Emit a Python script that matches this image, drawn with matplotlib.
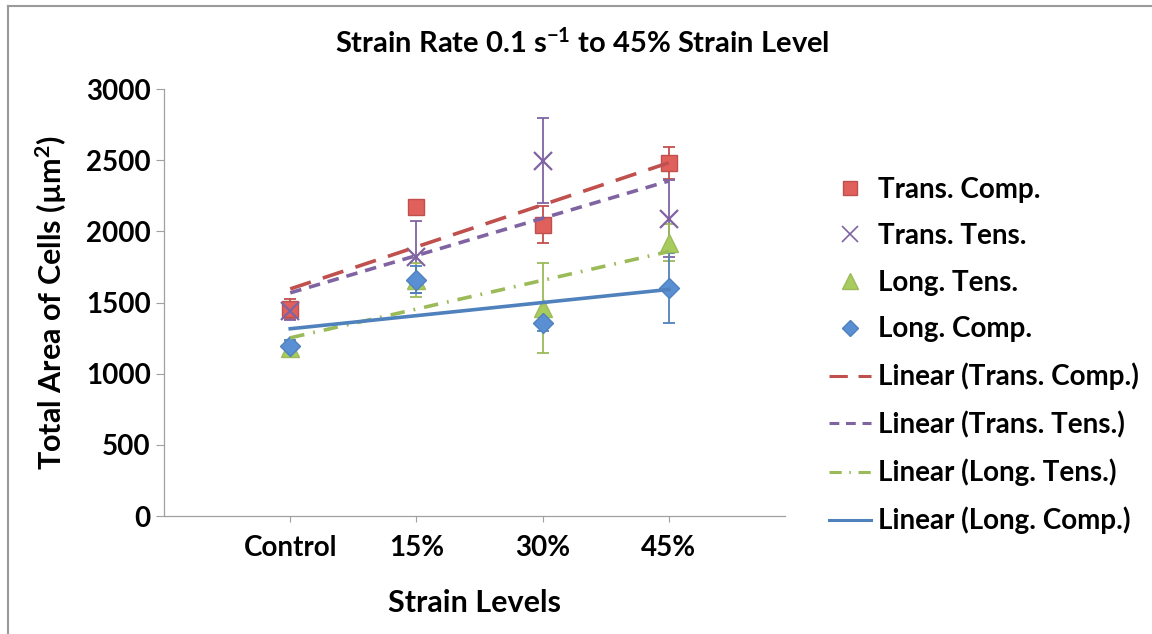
import numpy as np
import matplotlib
matplotlib.use("Agg")
import matplotlib.pyplot as plt
from matplotlib.lines import Line2D

plt.rcParams['font.family'] = ['Lato', 'DejaVu Sans']
plt.rcParams['font.weight'] = 'bold'
plt.rcParams['mathtext.fontset'] = 'custom'
plt.rcParams['mathtext.rm'] = 'Lato:bold'
plt.rcParams['mathtext.default'] = 'rm'

# data
levels = ["Control", "15%", "30%", "45%"]
trans_comp = [1455, 2172, 2046, 2482]
trans_comp_err = [70, 40, 130, 112]
trans_tens = [1440, 1820, 2496, 2088]
trans_tens_err = [60, 255, 300, 270]
long_tens = [1180, 1660, 1460, 1920]
long_tens_err = [40, 120, 315, 130]
long_comp = [1195, 1660, 1357, 1603]
long_comp_err = [40, 95, 60, 245]

x = np.arange(1, len(levels) + 1)

series = [
    ("Trans. Comp.", trans_comp, trans_comp_err, "#C0504D", "#E0605C", "s", 12, (0, (6, 3.5))),
    ("Trans. Tens.", trans_tens, trans_tens_err, "#8064A2", "none", "x", 13, (0, (3.2, 2.2))),
    ("Long. Tens.", long_tens, long_tens_err, "#9BBB59", "#A8CB5E", "^", 13, (0, (4, 2.5, 0.5, 2.5))),
    ("Long. Comp.", long_comp, long_comp_err, "#4F81BD", "#5B8FD4", "D", 10, "-"),
]

fig = plt.figure(figsize=(11.52, 6.34), dpi=100)
ax = fig.add_axes([0.1424, 0.1861, 0.539, 0.6735])

marker_handles = []
trend_handles = []
for name, vals, errs, col, face, mk, ms, ls in series:
    ax.errorbar(x, vals, yerr=errs, fmt="none", ecolor=col, elinewidth=1.3,
                capsize=4, capthick=1.3, zorder=2)
    if mk == "x":
        ax.plot(x, vals, linestyle="none", marker=mk, markersize=ms,
                markeredgecolor=col, markeredgewidth=1.6, zorder=3)
    else:
        ax.plot(x, vals, linestyle="none", marker=mk, markersize=ms,
                markerfacecolor=face, markeredgecolor=col, markeredgewidth=1.0, zorder=3)
    # linear trendline like Excel
    k, b = np.polyfit(x, vals, 1)
    ax.plot(x, k * x + b, color=col, linewidth=2.6, linestyle=ls, zorder=4)
    if mk == "x":
        marker_handles.append(Line2D([], [], linestyle="none", marker=mk, markersize=ms * 0.85,
                                     markeredgecolor=col, markeredgewidth=1.2, label=name))
    else:
        marker_handles.append(Line2D([], [], linestyle="none", marker=mk, markersize=ms * 0.85,
                                     markerfacecolor=face, markeredgecolor=col, label=name))
    trend_handles.append(Line2D([], [], color=col, linewidth=2.2, linestyle=ls,
                                label="Linear (" + name + ")"))

ax.set_xlim(0, 4.92)
ax.set_ylim(0, 3000)
ax.set_yticks(range(0, 3001, 500))
ax.set_xticks(x)
ax.set_xticklabels(levels)
ax.tick_params(axis="both", labelsize=20, colors="#000000", length=6, width=0.8)
ax.tick_params(axis="x", length=4, pad=10)
ax.tick_params(axis="both", color="#A0A0A0")
for s in ["top", "right"]:
    ax.spines[s].set_visible(False)
for s in ["left", "bottom"]:
    ax.spines[s].set_color("#A0A0A0")
    ax.spines[s].set_linewidth(0.9)

ax.set_ylabel("Total Area of Cells (µm$^2$)", fontsize=22, fontweight="bold", labelpad=12)
ax.set_xlabel("Strain Levels", fontsize=22, fontweight="bold", labelpad=20)
fig.text(0.505, 0.933, "Strain Rate 0.1 s$^{-1}$ to 45% Strain Level", fontsize=21,
         ha="center", va="center")

leg = fig.legend(handles=marker_handles + trend_handles, loc="upper left",
                 bbox_to_anchor=(0.710, 0.739), frameon=False, fontsize=20,
                 handlelength=1.5, handletextpad=0.25, labelspacing=0.74, borderaxespad=0)

# outer chart border (left and top visible)
fig.add_artist(Line2D([0.007, 0.007], [0, 0.99], color="#9A9A9A", linewidth=1.5))
fig.add_artist(Line2D([0.007, 1.0], [0.99, 0.99], color="#9A9A9A", linewidth=1.5))

fig.savefig("out.png", dpi=100)
